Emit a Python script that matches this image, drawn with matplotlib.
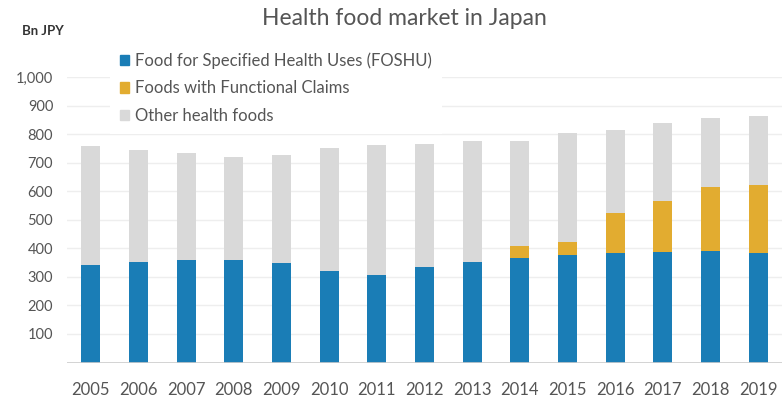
import matplotlib.pyplot as plt
import numpy as np
from matplotlib.patches import Patch
from matplotlib.ticker import FuncFormatter

plt.rcParams["font.family"] = ["Lato", "DejaVu Sans"]

years = [str(y) for y in range(2005, 2020)]
# values, Bn JPY
foshu = [342, 354, 360, 360, 348, 320, 306, 334, 353, 366, 378, 385, 388, 390, 385]
functional = [0, 0, 0, 0, 0, 0, 0, 0, 0, 44, 46, 138, 179, 225, 238]
total = [760, 746, 734, 722, 729, 753, 762, 765, 778, 778, 804, 816, 841, 859, 866]

foshu = np.array(foshu)
functional = np.array(functional)
other = np.array(total) - foshu - functional

c_blue = "#1a7db6"
c_yellow = "#e2ac30"
c_grey = "#d9d9d9"
text_grey = "#555555"

fig = plt.figure(figsize=(7.82, 4.01), dpi=100)
ax = fig.add_axes([0.0857, 0.096, 0.9143, 0.711])

x = np.arange(len(years))
w = 0.4
ax.bar(x, foshu, w, color=c_blue, zorder=2)
ax.bar(x, functional, w, bottom=foshu, color=c_yellow, zorder=2)
ax.bar(x, other, w, bottom=foshu + functional, color=c_grey, zorder=2)

ax.set_xlim(-0.5, 14.5)
ax.set_ylim(0, 1000)
ax.set_yticks(np.arange(100, 1001, 100))
ax.yaxis.set_major_formatter(FuncFormatter(lambda v, p: f"{int(v):,}"))
ax.set_xticks(x)
ax.set_xticklabels(years)

ax.grid(axis="y", color="#eeeeee", linewidth=1, zorder=0)
ax.axhline(0, color="#cccccc", linewidth=1.2, zorder=3)
for s in ax.spines.values():
    s.set_visible(False)
ax.tick_params(axis="both", length=0)
ax.tick_params(axis="y", labelsize=10.5, labelcolor=text_grey, pad=10)
ax.tick_params(axis="x", labelsize=12, labelcolor=text_grey, pad=14)

fig.text(0.517, 0.953, "Health food market in Japan", ha="center", va="center",
         fontsize=16.5, color=text_grey)
fig.text(0.028, 0.922, "Bn JPY", ha="left", va="center", fontsize=9.5,
         fontweight="bold", color="#333333")

handles = [Patch(color=c_blue), Patch(color=c_yellow), Patch(color=c_grey)]
labels = ["Food for Specified Health Uses (FOSHU)", "Foods with Functional Claims",
          "Other health foods"]
leg = ax.legend(handles, labels, loc="upper left",
                bbox_to_anchor=(0.141, 0.894), bbox_transform=fig.transFigure,
                frameon=True, facecolor="white", edgecolor="none", framealpha=1,
                fancybox=False, fontsize=12, handlelength=0.55, handleheight=0.55,
                handletextpad=0.35, labelspacing=0.68, borderpad=0.6,
                borderaxespad=0)
for t in leg.get_texts():
    t.set_color(text_grey)

fig.savefig("out.png", dpi=100)
